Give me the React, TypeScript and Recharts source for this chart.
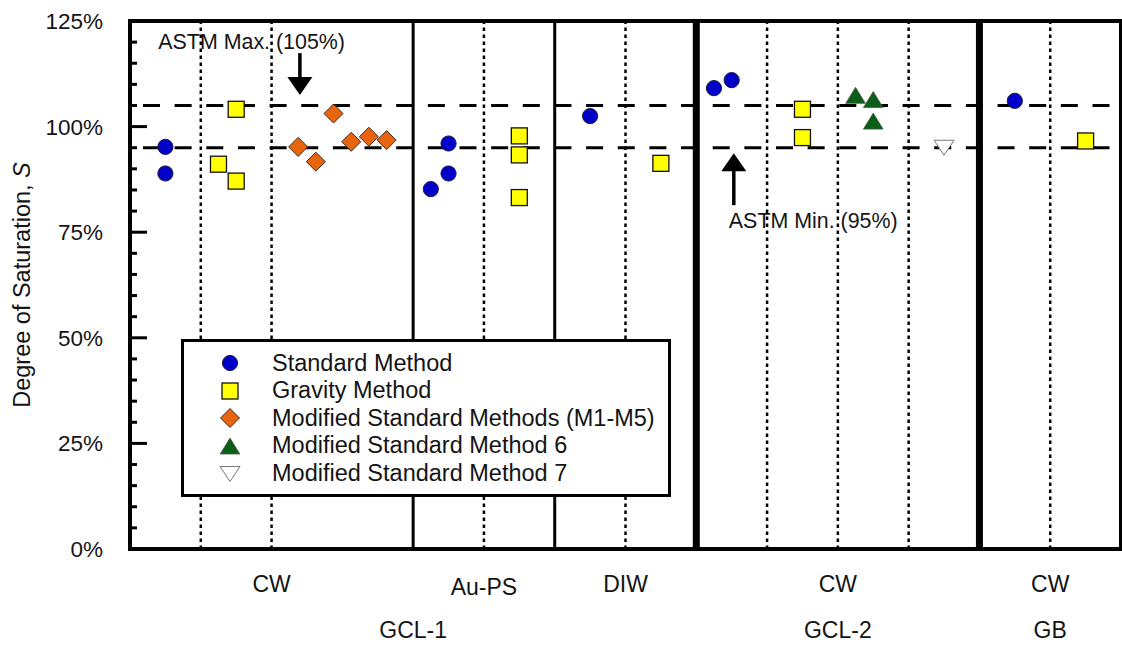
import React from "react";
import {
  ScatterChart,
  Scatter,
  XAxis,
  YAxis,
  ReferenceLine,
  ReferenceArea,
  ReferenceDot,
  Legend,
} from "recharts";

const FONT = '"Liberation Sans", Arial, Helvetica, sans-serif';
const INK = "#141414";

// specimen slots run 0..14 along x; each sample/method sits in its own slot
const sampleTicks = [2, 5, 7, 10, 13];
const sampleLabels = ["CW", "Au-PS", "DIW", "CW", "CW"];
const groupTicks = [4, 10, 13];
const groupLabels = ["GCL-1", "GCL-2", "GB"];

const yTicks = [
  0, 5, 10, 15, 20, 25, 30, 35, 40, 45, 50, 55, 60, 65, 70, 75, 80, 85, 90, 95,
  100, 105, 110, 115, 120, 125,
];

const dottedDividers = [1, 2, 5, 7, 9, 10, 11, 13];
const thinDividers = [4, 6];
const thickDividers = [8, 12];
const astmLimits = [95, 105];

// degree of saturation (%) per specimen
const standardX = [0.5, 0.5, 4.25, 4.5, 4.5, 6.5, 8.25, 8.5, 12.5];
const standardS = [95.2, 88.9, 85.2, 96.0, 88.9, 102.5, 109.1, 111.0, 106.1];
const gravityX = [1.5, 1.25, 1.5, 5.5, 5.5, 5.5, 7.5, 9.5, 9.5, 13.5];
const gravityS = [104.1, 91.1, 87.1, 97.8, 93.3, 83.2, 91.3, 104.1, 97.4, 96.6];
const modifiedX = [2.375, 2.625, 2.875, 3.125, 3.375, 3.625];
const modifiedS = [95.2, 91.7, 103.1, 96.4, 97.6, 96.8];
const method6X = [10.25, 10.5, 10.5];
const method6S = [107.4, 106.4, 101.3];
const method7X = [11.5];
const method7S = [95.0];

const annotations = [
  { text: "ASTM Max. (105%)", tx: 0.4, ty: 118.3, ax: 2.4, tail: 117.4, tip: 107.5 },
  { text: "ASTM Min. (95%)", tx: 8.46, ty: 75.9, ax: 8.53, tail: 81.4, tip: 93.7 },
];

type Kind = "circle" | "square" | "diamond" | "triangle" | "triangleDown";

const series: { name: string; kind: Kind; xs: number[]; ys: number[] }[] = [
  { name: "Standard Method", kind: "circle", xs: standardX, ys: standardS },
  { name: "Gravity Method", kind: "square", xs: gravityX, ys: gravityS },
  { name: "Modified Standard Methods (M1-M5)", kind: "diamond", xs: modifiedX, ys: modifiedS },
  { name: "Modified Standard Method 6", kind: "triangle", xs: method6X, ys: method6S },
  { name: "Modified Standard Method 7", kind: "triangleDown", xs: method7X, ys: method7S },
];

function Marker({ kind, cx, cy }: { kind: Kind; cx: number; cy: number }) {
  switch (kind) {
    case "circle":
      return <circle cx={cx} cy={cy} r={7.6} fill="#0000c8" stroke="#1c1c3a" strokeWidth={1} />;
    case "square":
      return (
        <rect x={cx - 8} y={cy - 8} width={16} height={16} fill="#ffff00" stroke="#111" strokeWidth={1.3} />
      );
    case "diamond":
      return (
        <polygon
          points={`${cx},${cy - 9.5} ${cx + 9.5},${cy} ${cx},${cy + 9.5} ${cx - 9.5},${cy}`}
          fill="#e8650f"
          stroke="#3a2a20"
          strokeWidth={1}
        />
      );
    case "triangle":
      return (
        <polygon
          points={`${cx},${cy - 8} ${cx + 9.8},${cy + 8} ${cx - 9.8},${cy + 8}`}
          fill="#0b5e18"
          stroke="#4a5a4a"
          strokeWidth={0.8}
        />
      );
    default:
      return (
        <polygon
          points={`${cx - 10},${cy - 7.5} ${cx + 10},${cy - 7.5} ${cx},${cy + 7.5}`}
          fill="#fff"
          stroke="#777"
          strokeWidth={1}
        />
      );
  }
}

const LeftTick = (props: any) => {
  const { x, y, payload } = props;
  const v = payload.value as number;
  const major = v % 25 === 0;
  return (
    <g>
      <line x1={x} x2={x + (major ? 17 : 7)} y1={y} y2={y} stroke="#000" strokeWidth={3} />
      {major && (
        <text x={x - 27} y={y} dy={8} textAnchor="end" fontFamily={FONT} fontSize={22.5} fill={INK}>
          {`${v}%`}
        </text>
      )}
    </g>
  );
};

const RightTick = (props: any) => {
  const { x, y, payload } = props;
  const major = (payload.value as number) % 25 === 0;
  return <line x1={x - (major ? 16 : 6)} x2={x} y1={y} y2={y} stroke="#000" strokeWidth={3} />;
};

const CategoryTick = (props: any) => {
  const { x, y, payload } = props;
  const v = payload.value as number;
  const si = sampleTicks.indexOf(v);
  const gi = groupTicks.indexOf(v);
  return (
    <g fontFamily={FONT} fontSize={23} fill={INK} textAnchor="middle">
      {si >= 0 && (
        <text x={x} y={y + 42.5 + (sampleLabels[si] === "Au-PS" ? 3.5 : 0)}>
          {sampleLabels[si]}
        </text>
      )}
      {gi >= 0 && (
        <text x={x} y={y + 89}>
          {groupLabels[gi]}
        </text>
      )}
    </g>
  );
};

const YTitle = (props: any) => {
  const vb = props.viewBox;
  const x = vb.x + 30;
  const y = vb.y + vb.height / 2;
  return (
    <text
      x={x}
      y={y}
      transform={`rotate(-90 ${x} ${y})`}
      textAnchor="middle"
      fontFamily={FONT}
      fontSize={23.5}
      fill={INK}
    >
      Degree of Saturation, <tspan fontStyle="italic">S</tspan>
    </text>
  );
};

const LegendBox = () => (
  <div
    style={{
      boxSizing: "border-box",
      width: 490,
      height: 158,
      border: "3px solid #000",
      background: "#fff",
      paddingTop: 7.5,
      fontFamily: FONT,
      fontSize: 23.5,
      color: INK,
    }}
  >
    {series.map((s) => (
      <div key={s.name} style={{ display: "flex", alignItems: "center", height: 27.6 }}>
        <svg width={26} height={26} style={{ marginLeft: 33, flex: "none" }}>
          <Marker kind={s.kind} cx={13} cy={13} />
        </svg>
        <span style={{ marginLeft: 29, whiteSpace: "nowrap", lineHeight: "27.6px" }}>{s.name}</span>
      </div>
    ))}
  </div>
);

export default function App() {
  const unique = Array.from(new Set([...sampleTicks, ...groupTicks])).sort((a, b) => a - b);
  return (
    <div style={{ position: "absolute", left: 0, top: 0, background: "#fff" }}>
      <ScatterChart width={1122} height={645} margin={{ top: 21, right: 1, bottom: 0, left: 0 }}>
        <XAxis
          type="number"
          dataKey="x"
          domain={[0, 14]}
          ticks={unique}
          interval={0}
          allowDataOverflow
          axisLine={false}
          tickLine={false}
          tickSize={0}
          tickMargin={0}
          height={96}
          tick={CategoryTick}
        />
        <YAxis
          type="number"
          dataKey="s"
          domain={[0, 125]}
          ticks={yTicks}
          interval={0}
          allowDataOverflow
          width={130}
          axisLine={false}
          tickLine={false}
          tickSize={0}
          tickMargin={0}
          tick={LeftTick}
          label={YTitle}
        />
        <YAxis
          yAxisId="r"
          orientation="right"
          type="number"
          domain={[0, 125]}
          ticks={yTicks}
          interval={0}
          allowDataOverflow
          width={0}
          axisLine={false}
          tickLine={false}
          tickSize={0}
          tickMargin={0}
          tick={RightTick}
        />

        {dottedDividers.map((x) => (
          <ReferenceLine key={`d${x}`} x={x} stroke="#000" strokeWidth={2.5} strokeDasharray="3.5 3.5" />
        ))}
        {thinDividers.map((x) => (
          <ReferenceLine key={`t${x}`} x={x} stroke="#000" strokeWidth={3} />
        ))}
        {astmLimits.map((y) => (
          <ReferenceLine
            key={`h${y}`}
            y={y}
            stroke="#000"
            strokeWidth={3}
            strokeDasharray="17 14.65"
            strokeDashoffset={18.65}
          />
        ))}
        {thickDividers.map((x) => (
          <ReferenceLine key={`k${x}`} x={x} stroke="#000" strokeWidth={7} />
        ))}
        <ReferenceArea
          x1={0}
          x2={14}
          y1={0}
          y2={125}
          ifOverflow="visible"
          fill="none"
          stroke="#000"
          strokeWidth={4}
        />

        {annotations.map((a) => (
          <ReferenceLine
            key={`s${a.text}`}
            segment={[
              { x: a.ax, y: a.tail },
              { x: a.ax, y: a.tip + (a.tip > a.tail ? -3 : 3) },
            ]}
            stroke="#000"
            strokeWidth={3.5}
          />
        ))}
        {annotations.map((a) => (
          <ReferenceDot
            key={`h${a.text}`}
            x={a.ax}
            y={a.tip}
            r={1}
            shape={(p: any) => {
              const d = a.tip > a.tail ? 1 : -1;
              return (
                <polygon
                  points={`${p.cx},${p.cy} ${p.cx - 12.5},${p.cy + 18 * d} ${p.cx + 12.5},${p.cy + 18 * d}`}
                  fill="#000"
                />
              );
            }}
          />
        ))}
        {annotations.map((a) => (
          <ReferenceDot
            key={`l${a.text}`}
            x={a.tx}
            y={a.ty}
            r={1}
            shape={(p: any) => (
              <text x={p.cx} y={p.cy} fontFamily={FONT} fontSize={21.4} fill={INK}>
                {a.text}
              </text>
            )}
          />
        ))}

        {series.map((s) => (
          <Scatter
            key={s.name}
            name={s.name}
            data={s.xs.map((x, i) => ({ x, s: s.ys[i] }))}
            isAnimationActive={false}
            shape={(p: any) => <Marker kind={s.kind} cx={p.cx} cy={p.cy} />}
          />
        ))}

        <Legend
          layout="vertical"
          align="center"
          verticalAlign="middle"
          wrapperStyle={{ left: 181, top: 339, width: "auto", height: "auto" }}
          content={() => <LegendBox />}
        />
      </ScatterChart>
    </div>
  );
}
